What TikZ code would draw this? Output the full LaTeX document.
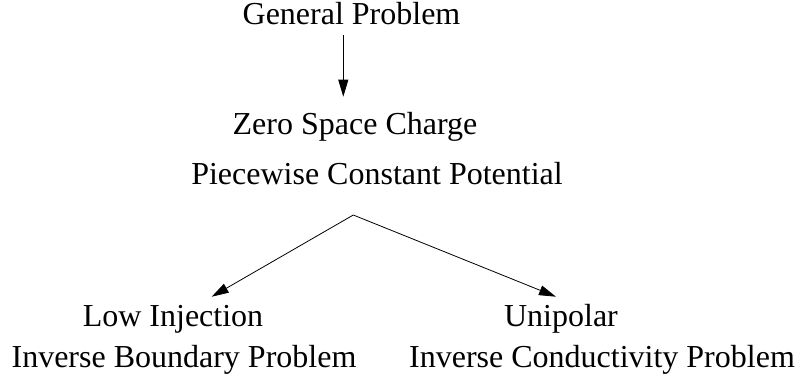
\documentclass[tikz,border=0pt]{standalone}
\usepackage{fontspec}
\setmainfont{Liberation Serif}
\usetikzlibrary{arrows.meta}
\tikzset{
  lbl/.style={anchor=base,inner sep=0pt,font=\fontsize{32}{38}\selectfont},
  arr/.style={line width=0.8pt,-{Triangle[length=17pt,width=10pt]}}
}
\begin{document}
\begin{tikzpicture}[x=1pt,y=-1pt]
\useasboundingbox (0,0) rectangle (806,381);
\node[lbl] (gp) at (351.5,24) {General Problem};
\node[lbl] (zsc) at (355,134) {Zero Space Charge};
\node[lbl] (pcp) at (377,184) {Piecewise Constant Potential};
\node[lbl] (li) at (173,326) {Low Injection};
\node[lbl] (ibp) at (184,367) {Inverse Boundary Problem};
\node[lbl] (uni) at (561,326) {Unipolar};
\node[lbl] (icp) at (602,367) {Inverse Conductivity Problem};
\coordinate (top) at (343.3,35);
\coordinate (bot) at (343.3,96.7);
\coordinate (apex) at (353.3,215);
\coordinate (tl) at (211.7,296.7);
\coordinate (tr) at (556,296.7);
\draw[arr] (top) -- (bot);
\draw[arr] (apex) -- (tl);
\draw[arr] (apex) -- (tr);
\end{tikzpicture}
\end{document}
